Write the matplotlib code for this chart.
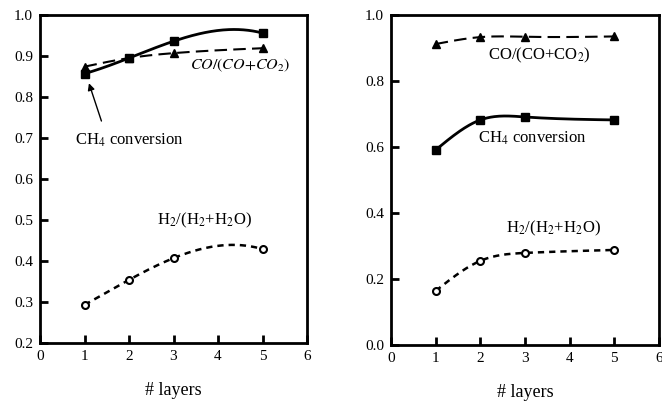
import numpy as np
import matplotlib
matplotlib.use("Agg")
import matplotlib.pyplot as plt

plt.rcParams["font.family"] = ["Liberation Serif", "DejaVu Serif"]
plt.rcParams["mathtext.fontset"] = "stix"

layers = [1, 2, 3, 5]

# left panel
left_ch4 = [0.857, 0.895, 0.936, 0.956]
left_co = [0.874, 0.895, 0.907, 0.919]
left_h2 = [0.293, 0.354, 0.407, 0.429]

# right panel
right_ch4 = [0.591, 0.682, 0.691, 0.682]
right_co = [0.912, 0.933, 0.934, 0.935]
right_h2 = [0.164, 0.255, 0.279, 0.288]


def spline(x, y):
    # natural cubic spline through the measured points, for the line only
    x = np.asarray(x, float)
    y = np.asarray(y, float)
    n = len(x)
    h = np.diff(x)
    A = np.zeros((n, n))
    b = np.zeros(n)
    A[0, 0] = A[-1, -1] = 1
    for i in range(1, n - 1):
        A[i, i - 1] = h[i - 1]
        A[i, i] = 2 * (h[i - 1] + h[i])
        A[i, i + 1] = h[i]
        b[i] = 6 * ((y[i + 1] - y[i]) / h[i] - (y[i] - y[i - 1]) / h[i - 1])
    m = np.linalg.solve(A, b)
    xs = np.linspace(x[0], x[-1], 150)
    k = np.clip(np.searchsorted(x, xs) - 1, 0, n - 2)
    t0 = x[k + 1] - xs
    t1 = xs - x[k]
    hk = h[k]
    ys = (m[k] * t0 ** 3 / (6 * hk) + m[k + 1] * t1 ** 3 / (6 * hk)
          + (y[k] / hk - m[k] * hk / 6) * t0 + (y[k + 1] / hk - m[k + 1] * hk / 6) * t1)
    return xs, ys


def cubic(x, y):
    # single cubic through the four points
    c = np.polyfit(x, y, 3)
    xs = np.linspace(min(x), max(x), 150)
    return xs, np.polyval(c, xs)


def draw(ax, ch4, co, h2, smooth):
    xs, ys = smooth(layers, ch4)
    ax.plot(xs, ys, "-", color="black", lw=2)
    ax.plot(layers, ch4, "s", color="black", ms=6)
    xs, ys = spline(layers, co)
    ax.plot(xs, ys, color="black", lw=1.5, dashes=(6, 3))
    ax.plot(layers, co, "^", color="black", ms=6)
    xs, ys = smooth(layers, h2)
    ax.plot(xs, ys, color="black", lw=1.8, dashes=(2.5, 2))
    ax.plot(layers, h2, "o", color="black", mfc="white", mew=1.5, ms=5)

    ax.set_xlim(0, 6)
    ax.set_xticks(range(7))
    for s in ax.spines.values():
        s.set_linewidth(2)
    ax.tick_params(direction="in", length=6, width=2, labelsize=11,
                   top=False, right=False, pad=5)
    ax.set_xlabel("# layers", fontsize=13, labelpad=14)


fig = plt.figure(figsize=(6.62, 4.04), dpi=100)
ax1 = fig.add_axes([40 / 662, 61 / 404, 267 / 662, 328 / 404])
ax2 = fig.add_axes([391 / 662, 59 / 404, 268 / 662, 330 / 404])

draw(ax1, left_ch4, left_co, left_h2, cubic)
ax1.set_ylim(0.2, 1.0)
ax1.set_yticks(np.arange(0.2, 1.01, 0.1))
ax1.set_yticklabels([f"{v:.1f}" for v in np.arange(0.2, 1.01, 0.1)])
ax1.text(3.37, 0.878, r"$\mathit{CO/(CO{+}CO_2)}$", fontsize=11.5, va="center")
ax1.text(0.79, 0.695, r"CH$_4$ conversion", fontsize=12, va="center")
ax1.annotate("", xy=(1.08, 0.84), xytext=(1.4, 0.735),
             arrowprops=dict(arrowstyle="-|>", color="black", lw=1, mutation_scale=10))
ax1.text(2.63, 0.5, r"H$_2$/(H$_2$+H$_2$O)", fontsize=12, va="center")

draw(ax2, right_ch4, right_co, right_h2, spline)
ax2.set_ylim(0.0, 1.0)
ax2.set_yticks(np.arange(0.0, 1.01, 0.2))
ax2.set_yticklabels([f"{v:.1f}" for v in np.arange(0.0, 1.01, 0.2)])
ax2.text(2.17, 0.879, r"CO/(CO+CO$_2$)", fontsize=12, va="center")
ax2.text(1.94, 0.627, r"CH$_4$ conversion", fontsize=12, va="center")
ax2.text(2.57, 0.352, r"H$_2$/(H$_2$+H$_2$O)", fontsize=12, va="center")

fig.savefig("out.png", dpi=100)
